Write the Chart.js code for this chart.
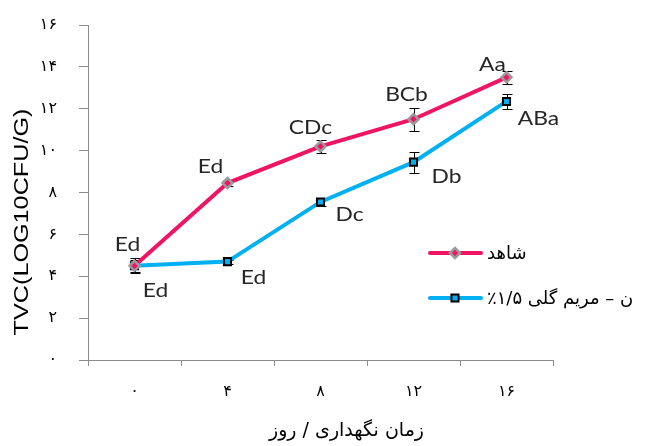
<!DOCTYPE html>
<html>
<head>
<meta charset="utf-8">
<script src="https://cdn.jsdelivr.net/npm/chart.js@4"></script>
<style>
  html, body { margin: 0; padding: 0; background: #fff; }
  #wrap { width: 646px; height: 446px; position: relative; }
</style>
</head>
<body>
<div id="wrap"><canvas id="myChart" width="646" height="446"></canvas></div>
<script>
// storage days, shown with Persian digits
const days = ['۰', '۴', '۸', '۱۲', '۱۶'];
const yTicks = ['۰', '۲', '۴', '۶', '۸', '۱۰', '۱۲', '۱۴', '۱۶'];

const controlVals = [4.5, 8.45, 10.2, 11.5, 13.5];
const controlErr = [0.3, 0.15, 0.3, 0.55, 0.3];
const controlLetters = ['Ed', 'Ed', 'CDc', 'BCb', 'Aa'];

const sageVals = [4.5, 4.7, 7.55, 9.45, 12.35];
const sageErr = [0.35, 0.1, 0.2, 0.5, 0.35];
const sageLetters = ['Ed', 'Ed', 'Dc', 'Db', 'ABa'];

const seriesNames = ['شاهد', 'ن – مریم گلی ۱/۵٪'];

const yTitle = 'TVC(LOG10CFU/G)';
const xTitle = 'زمان نگهداری / روز';

const PINK = '#f01464';
const BLUE = '#00b0f0';
const AXIS = '#8c8c8c';
const PLOT_TOP = 25;

// pin the top of the plot area so the 16 tick sits at PLOT_TOP
const pinTop = {
  id: 'pinTop',
  afterLayout(chart) {
    const a = chart.chartArea;
    const y = chart.scales.y;
    a.top = PLOT_TOP;
    a.height = a.bottom - a.top;
    y.top = PLOT_TOP;
    y.height = y.bottom - y.top;
    y.configure();
  }
};

// error bars go underneath the lines
const errorBars = {
  id: 'errorBars',
  beforeDatasetsDraw(chart) {
    const ctx = chart.ctx;
    const y = chart.scales.y;
    ctx.save();
    ctx.strokeStyle = '#000';
    ctx.lineWidth = 1;
    chart.data.datasets.forEach((ds, i) => {
      const meta = chart.getDatasetMeta(i);
      meta.data.forEach((pt, j) => {
        const e = ds.err[j];
        const top = Math.round(y.getPixelForValue(ds.data[j] + e)) + 0.5;
        const bot = Math.round(y.getPixelForValue(ds.data[j] - e)) + 0.5;
        const x = Math.round(pt.x) + 0.5;
        ctx.beginPath();
        ctx.moveTo(x, top); ctx.lineTo(x, bot);
        ctx.moveTo(x - 5, top); ctx.lineTo(x + 5, top);
        ctx.moveTo(x - 5, bot); ctx.lineTo(x + 5, bot);
        ctx.stroke();
      });
    });
    ctx.restore();
  }
};

// letter groups next to each point (text is drawn a bit wide)
const letterLabels = {
  id: 'letterLabels',
  afterDatasetsDraw(chart, args, opts) {
    const ctx = chart.ctx;
    chart.data.datasets.forEach((ds, i) => {
      const meta = chart.getDatasetMeta(i);
      const off = opts.offsets[i];
      meta.data.forEach((pt, j) => {
        ctx.save();
        ctx.translate(pt.x + off[j][0], pt.y + off[j][1]);
        ctx.scale(opts.stretch, 1);
        ctx.font = opts.font;
        ctx.fillStyle = '#262626';
        ctx.textAlign = 'center';
        ctx.textBaseline = 'middle';
        ctx.fillText(ds.letters[j], 0, 0);
        ctx.restore();
      });
    });
  }
};

// legend inside the plot plus both axis titles
const extras = {
  id: 'extras',
  afterDraw(chart) {
    const ctx = chart.ctx;
    const a = chart.chartArea;
    ctx.save();
    chart.data.datasets.forEach((ds, i) => {
      const ly = 253 + i * 45;
      ctx.strokeStyle = ds.borderColor;
      ctx.lineWidth = 4;
      ctx.lineCap = 'round';
      ctx.beginPath();
      ctx.moveTo(430, ly); ctx.lineTo(481, ly);
      ctx.stroke();
      ctx.fillStyle = ds.pointBackgroundColor;
      ctx.strokeStyle = ds.pointBorderColor;
      ctx.lineWidth = ds.pointBorderWidth;
      Chart.helpers.drawPoint(ctx, {
        pointStyle: ds.pointStyle, radius: ds.pointRadius, rotation: 0,
        borderWidth: ds.pointBorderWidth
      }, 455, ly);
      ctx.fillStyle = '#000';
      ctx.font = '18px "DejaVu Sans"';
      ctx.direction = 'rtl';
      ctx.textAlign = 'left';
      ctx.textBaseline = 'middle';
      ctx.fillText(ds.label, 487, ly + 1);
      ctx.direction = 'ltr';
    });

    ctx.fillStyle = '#000';
    ctx.font = '19px "DejaVu Sans"';
    ctx.direction = 'rtl';
    ctx.textAlign = 'center';
    ctx.textBaseline = 'middle';
    ctx.fillText(xTitle, (a.left + a.right) / 2 + 26, 431);
    ctx.direction = 'ltr';

    ctx.translate(22, 222);
    ctx.rotate(-Math.PI / 2);
    ctx.scale(1.2, 1);
    ctx.font = '21px "Liberation Sans"';
    ctx.fillStyle = '#000';
    ctx.fillText(yTitle, 0, 0);
    ctx.restore();
  }
};

const ctx = document.getElementById('myChart').getContext('2d');
const chart = new Chart(ctx, {
  type: 'line',
  data: {
    labels: days,
    datasets: [{
      label: seriesNames[0],
      data: controlVals,
      err: controlErr,
      letters: controlLetters,
      borderColor: PINK,
      borderWidth: 4,
      pointStyle: 'rectRot',
      pointRadius: 5,
      pointBackgroundColor: PINK,
      pointBorderColor: '#9a9a9a',
      pointBorderWidth: 2.5
    }, {
      label: seriesNames[1],
      data: sageVals,
      err: sageErr,
      letters: sageLetters,
      borderColor: BLUE,
      borderWidth: 4,
      pointStyle: 'rect',
      pointRadius: 5,
      pointBackgroundColor: BLUE,
      pointBorderColor: '#000',
      pointBorderWidth: 2
    }]
  },
  options: {
    responsive: false,
    animation: false,
    layout: { autoPadding: false, padding: { left: 0, right: 93, top: PLOT_TOP, bottom: 0 } },
    plugins: {
      legend: { display: false },
      tooltip: { enabled: false },
      letterLabels: {
        font: '19px Lato',
        stretch: 1.2,
        offsets: [
          [[-7, -21], [-17, -16], [-10, -19], [-7, -24], [-14, -12]],
          [[21, 25], [26, 16], [29, 13], [33, 15], [32, 17]]
        ]
      }
    },
    scales: {
      x: {
        offset: true,
        grid: { offset: true, drawOnChartArea: false, color: AXIS, tickLength: 6 },
        border: { color: AXIS },
        ticks: { color: '#000', padding: 16, font: { family: 'DejaVu Sans', size: 16 } },
        afterFit(s) { s.height = 86; }
      },
      y: {
        min: 0, max: 16,
        grid: { drawOnChartArea: false, color: AXIS, tickLength: 9 },
        border: { color: AXIS },
        ticks: {
          stepSize: 2, color: '#000', padding: 22,
          font: { family: 'DejaVu Sans', size: 16 },
          callback: (v, i) => yTicks[i]
        },
        afterFit(s) { s.width = 88; }
      }
    }
  },
  plugins: [pinTop, errorBars, letterLabels, extras]
});
</script>
</body>
</html>
